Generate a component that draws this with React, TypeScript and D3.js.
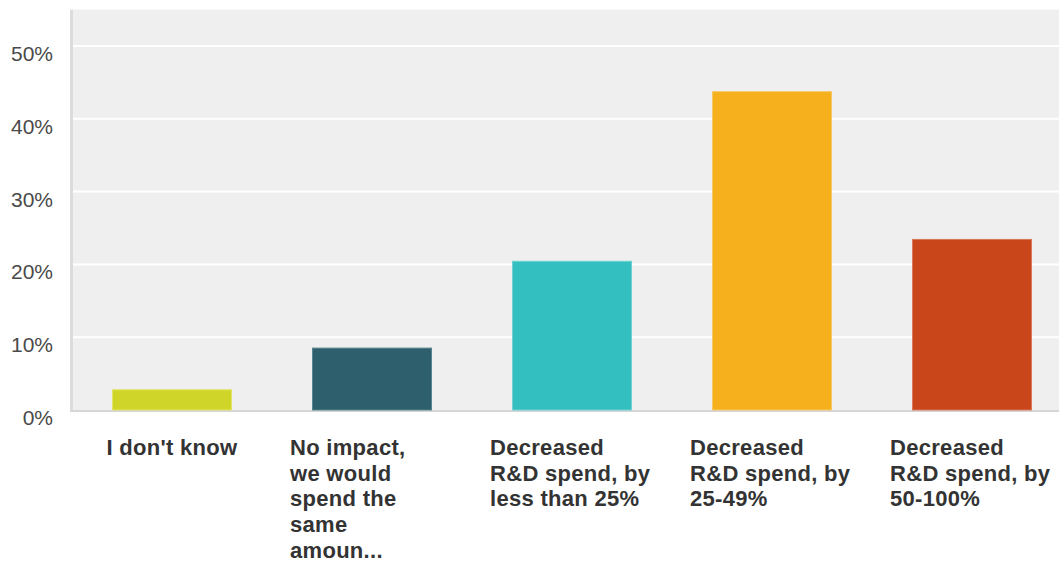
import React from "react";
import * as d3 from "d3";

const categories = [
  "I don't know",
  "No impact, we would spend the same amoun...",
  "Decreased R&D spend, by less than 25%",
  "Decreased R&D spend, by 25-49%",
  "Decreased R&D spend, by 50-100%",
];
const categoryLines = [
  ["I don't know"],
  ["No impact,", "we would", "spend the", "same", "amoun..."],
  ["Decreased", "R&D spend, by", "less than 25%"],
  ["Decreased", "R&D spend, by", "25-49%"],
  ["Decreased", "R&D spend, by", "50-100%"],
];
const values = [0.0285, 0.0857, 0.205, 0.438, 0.235];
const colors = ["#d0d629", "#2d5f6c", "#33bec0", "#f6b01e", "#c9461b"];
const strokes = ["#e0e46a", "#5a8590", "#72d2d3", "#f9c866", "#d9785a"];
const yTicks = [0, 0.1, 0.2, 0.3, 0.4, 0.5];

const W = 1059;
const H = 562;

export default function App() {
  const x = d3.scaleBand<string>().domain(categories).range([72, 1072]).paddingInner(0.4).paddingOuter(0.2);
  const y = d3.scaleLinear().domain([0, 0.55]).range([410, 9.6]);
  const fmt = d3.format(".0%");

  return (
    <svg
      width={W}
      height={H}
      style={{ position: "absolute", left: 0, top: 0, background: "#fff" }}
    >
      <rect x={72} y={y(0.55)} width={W - 72} height={y(0) - y(0.55)} fill="#efefef" />
      {yTicks.slice(1).map((t) => (
        <line key={t} x1={73} x2={W} y1={y(t)} y2={y(t)} stroke="#ffffff" strokeWidth={2} />
      ))}
      <rect x={70} y={y(0.55)} width={3} height={y(0) - y(0.55) + 2} fill="#dcdcdc" />
      <rect x={70} y={y(0)} width={W - 70} height={2} fill="#d6d6d6" />
      {yTicks.map((t) => (
        <text
          key={t}
          x={53}
          y={y(t) + 15}
          textAnchor="end"
          fontFamily="'Liberation Sans', Arial, sans-serif"
          fontSize={21}
          fill="#4a4a4a"
        >
          {fmt(t)}
        </text>
      ))}
      {categories.map((c, i) => (
        <rect
          key={c}
          x={(x(c) as number) + 0.5}
          y={y(values[i]) + 0.5}
          width={x.bandwidth() - 1}
          height={y(0) - y(values[i]) - 0.5}
          fill={colors[i]}
          stroke={strokes[i]}
          strokeWidth={1}
        />
      ))}
      {categories.map((c, i) => {
        const cx = (x(c) as number) + x.bandwidth() / 2;
        const lines = categoryLines[i];
        const single = lines.length === 1;
        return (
          <text
            key={c}
            x={single ? cx : cx - 82}
            y={455}
            textAnchor={single ? "middle" : "start"}
            fontFamily="'Liberation Sans', Arial, sans-serif"
            fontWeight="bold"
            fontSize={22}
            letterSpacing={0.3}
            fill="#333333"
          >
            {lines.map((l, j) => (
              <tspan key={j} x={single ? cx : cx - 82} dy={j === 0 ? 0 : 25.7}>
                {l}
              </tspan>
            ))}
          </text>
        );
      })}
    </svg>
  );
}
